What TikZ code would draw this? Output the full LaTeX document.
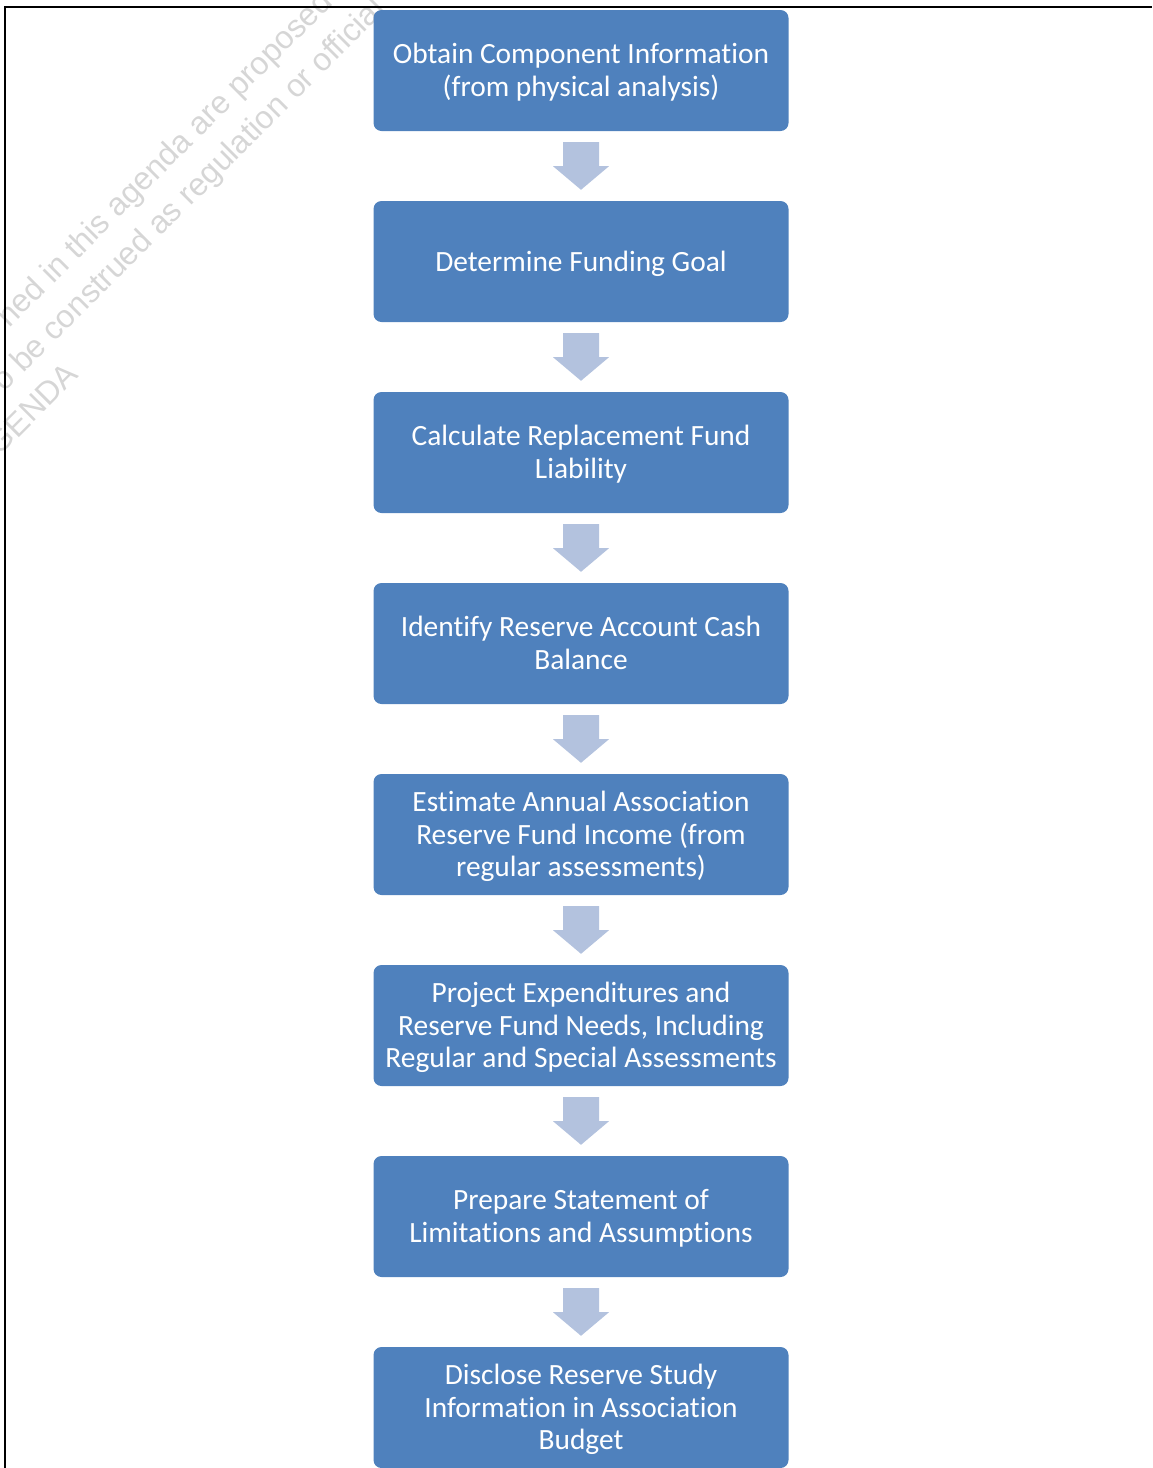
\documentclass[tikz,border=0pt]{standalone}
\usepackage{fontspec}
\setmainfont[Ligatures=NoCommon]{Carlito}
\newfontfamily\wmfont{Liberation Sans}
\usetikzlibrary{calc}
\definecolor{boxblue}{RGB}{79,129,189}
\definecolor{arrowblue}{RGB}{179,194,222}
\definecolor{wmgray}{RGB}{214,214,214}
\newcommand{\boxlines}[1]{\begin{tabular}{@{}c@{}}\rule{0pt}{28.75pt}#1\end{tabular}}
\begin{document}
\begin{tikzpicture}[x=1pt,y=-1pt,
  stepbox/.style={fill=boxblue, rounded corners=8pt, minimum width=415pt,
    minimum height=121pt, text=white, inner sep=0pt,
    font=\fontsize{29.4}{32.5}\selectfont},
  wmtext/.style={rotate=45, anchor=base west, text=wmgray, inner sep=0pt,
    font=\wmfont\fontsize{32}{32}\selectfont},
  blockarrow/.style={fill=arrowblue},
  frame/.style={line width=2pt, draw=black}]
\useasboundingbox (0,0) rectangle (1152,1468);
\begin{scope}
\clip (0,0) rectangle (1152,1468);
\node[wmtext] (wm1) at (9,328.5) {ned in this agenda are proposed};
\node[wmtext] (wm2) at (4.2,392.8) {o be construed as regulation or official};
\node[wmtext] (wm3) at (-0.6,456.8) {GENDA};
\end{scope}
\draw[frame] (5,1468) -- (5,7) -- (1152,7);
\node[stepbox] (b1) at (581,70.5) {\boxlines{Obtain Component Information\\(from physical analysis)}};
\node[stepbox] (b2) at (581,261.5) {\boxlines{Determine Funding Goal}};
\node[stepbox] (b3) at (581,452.5) {\boxlines{Calculate Replacement Fund\\Liability}};
\node[stepbox] (b4) at (581,643.5) {\boxlines{Identify Reserve Account Cash\\Balance}};
\node[stepbox] (b5) at (581,834.5) {\boxlines{Estimate Annual Association\\Reserve Fund Income (from\\regular assessments)}};
\node[stepbox] (b6) at (581,1025.5) {\boxlines{Project Expenditures and\\Reserve Fund Needs, Including\\Regular and Special Assessments}};
\node[stepbox] (b7) at (581,1216.5) {\boxlines{Prepare Statement of\\Limitations and Assumptions}};
\node[stepbox] (b8) at (581,1407.5) {\boxlines{Disclose Reserve Study\\Information in Association\\Budget}};
\foreach \a/\b in {b1/b2,b2/b3,b3/b4,b4/b5,b5/b6,b6/b7,b7/b8}{
  \fill[blockarrow] ($(\a.south)+(-18,11)$) -- ++(36,0) -- ++(0,24) -- ++(10,0)
    -- ($(\b.north)+(0,-11)$) -- ($(\a.south)+(-28,35)$) -- ++(10,0) -- cycle;
}
\end{tikzpicture}
\end{document}
